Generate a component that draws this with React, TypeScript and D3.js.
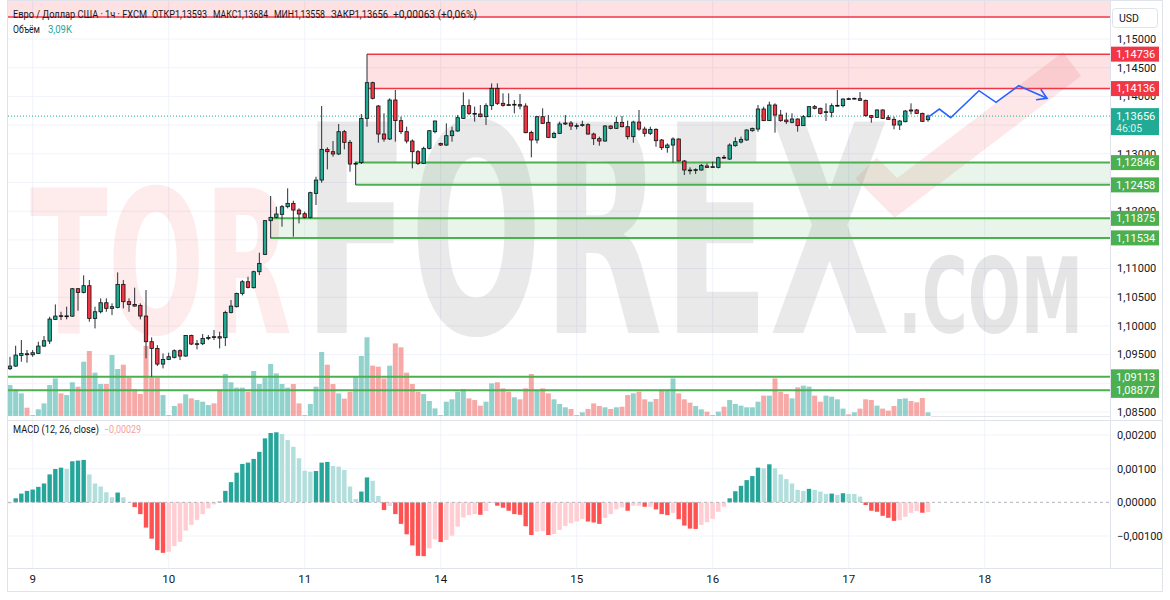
import * as d3 from "d3";

// hourly EUR/USD bars, [open, high, low, close]
const candles: [number, number, number, number][] = [
  [1.09254, 1.09463, 1.09231, 1.093], [1.093, 1.09655, 1.09289, 1.09492], [1.09486, 1.09754, 1.09376, 1.09521],
  [1.09515, 1.09579, 1.09359, 1.09498], [1.09498, 1.09579, 1.09463, 1.09533], [1.09521, 1.09725, 1.0951, 1.09649],
  [1.09649, 1.09823, 1.09637, 1.09742], [1.09736, 1.1016, 1.09684, 1.1012], [1.10114, 1.10375, 1.10102, 1.10172],
  [1.10178, 1.10247, 1.10102, 1.10172], [1.1017, 1.10335, 1.10114, 1.10175], [1.1017, 1.1066, 1.1016, 1.10648],
  [1.10648, 1.1066, 1.10265, 1.10584], [1.10584, 1.10881, 1.10567, 1.10701], [1.10701, 1.10799, 1.10073, 1.10131],
  [1.10131, 1.10335, 1.09957, 1.10247], [1.10247, 1.1048, 1.10218, 1.10404], [1.10404, 1.1048, 1.10247, 1.10306],
  [1.10306, 1.10393, 1.10189, 1.10335], [1.10323, 1.10933, 1.10306, 1.10724], [1.10724, 1.10799, 1.10306, 1.10422],
  [1.10422, 1.1048, 1.10247, 1.10375], [1.10375, 1.10666, 1.10335, 1.10346], [1.10358, 1.10393, 1.10114, 1.10172],
  [1.10172, 1.10625, 1.09434, 1.09725], [1.09725, 1.098, 1.09114, 1.09608], [1.09608, 1.09666, 1.093, 1.09335],
  [1.09335, 1.09521, 1.0926, 1.09417], [1.09417, 1.09533, 1.09405, 1.09463], [1.09452, 1.09591, 1.09434, 1.09568],
  [1.09568, 1.09591, 1.09405, 1.09475], [1.09475, 1.09841, 1.09463, 1.09835], [1.09835, 1.09847, 1.09666, 1.09684],
  [1.09684, 1.09754, 1.09591, 1.0969], [1.0969, 1.09858, 1.09666, 1.09783], [1.09783, 1.09841, 1.09754, 1.098],
  [1.09812, 1.09928, 1.09754, 1.098], [1.09812, 1.09899, 1.09608, 1.09789], [1.09795, 1.10265, 1.09649, 1.10236],
  [1.10236, 1.10451, 1.10218, 1.10346], [1.10335, 1.10579, 1.10323, 1.10567], [1.10567, 1.10799, 1.10532, 1.1077],
  [1.1077, 1.10857, 1.10654, 1.10672], [1.10666, 1.10962, 1.10654, 1.10945], [1.10945, 1.11276, 1.10887, 1.1109],
  [1.11247, 1.11845, 1.11235, 1.11834], [1.11834, 1.12264, 1.11526, 1.11892], [1.11892, 1.12078, 1.11874, 1.1195],
  [1.11944, 1.12107, 1.11729, 1.12078], [1.12078, 1.12397, 1.12049, 1.12136], [1.12136, 1.12182, 1.11555, 1.12019],
  [1.12019, 1.12049, 1.11787, 1.1195], [1.11955, 1.11991, 1.11874, 1.11892], [1.11892, 1.12339, 1.11874, 1.12322],
  [1.1231, 1.126, 1.12107, 1.12542], [1.12542, 1.13832, 1.12496, 1.13077], [1.13077, 1.13112, 1.12728, 1.13036],
  [1.13036, 1.13222, 1.12949, 1.12996], [1.12996, 1.13518, 1.12978, 1.13385], [1.13385, 1.13414, 1.13077, 1.13199],
  [1.13199, 1.1324, 1.12688, 1.12821], [1.12821, 1.12862, 1.12458, 1.12833], [1.12846, 1.13693, 1.12821, 1.13617],
  [1.13617, 1.14736, 1.13472, 1.14239], [1.14239, 1.14256, 1.13948, 1.13966], [1.13832, 1.1385, 1.13193, 1.13344],
  [1.13344, 1.13704, 1.13211, 1.13257], [1.13257, 1.13966, 1.1324, 1.13937], [1.13937, 1.14111, 1.13211, 1.13577],
  [1.13577, 1.13646, 1.13344, 1.13385], [1.13385, 1.13472, 1.13181, 1.13222], [1.13222, 1.13251, 1.12746, 1.13036],
  [1.13036, 1.13065, 1.12804, 1.12833], [1.12833, 1.13123, 1.12821, 1.13094], [1.13094, 1.13414, 1.13077, 1.13402],
  [1.13385, 1.13577, 1.13356, 1.13571], [1.13181, 1.13193, 1.13135, 1.13152], [1.13152, 1.1353, 1.13135, 1.13315],
  [1.13315, 1.13472, 1.13211, 1.13397], [1.13397, 1.13675, 1.13385, 1.13629], [1.13617, 1.1407, 1.13606, 1.13838],
  [1.13838, 1.13948, 1.13675, 1.13704], [1.13704, 1.13821, 1.13559, 1.13698], [1.13693, 1.1385, 1.13635, 1.13646],
  [1.13646, 1.13879, 1.13501, 1.13838], [1.13838, 1.14227, 1.13763, 1.1414], [1.1414, 1.14227, 1.1385, 1.13879],
  [1.13879, 1.14053, 1.13821, 1.13844], [1.13856, 1.14053, 1.1385, 1.1385], [1.13856, 1.13937, 1.13704, 1.13862],
  [1.13856, 1.14041, 1.13774, 1.13832], [1.13832, 1.13879, 1.13356, 1.13368], [1.13373, 1.13402, 1.12937, 1.1324],
  [1.1324, 1.13658, 1.13181, 1.13646], [1.13646, 1.13792, 1.13519, 1.1353], [1.13548, 1.13675, 1.13274, 1.13286],
  [1.13286, 1.13385, 1.13269, 1.13356], [1.13356, 1.13559, 1.13344, 1.13519], [1.13519, 1.13675, 1.13501, 1.13536],
  [1.13536, 1.13571, 1.13414, 1.13484], [1.13484, 1.1353, 1.13426, 1.1349], [1.13501, 1.13577, 1.13472, 1.13507],
  [1.13507, 1.1353, 1.13333, 1.13344], [1.13344, 1.13368, 1.13152, 1.13263], [1.13263, 1.13298, 1.13141, 1.13222],
  [1.13222, 1.13501, 1.13211, 1.13484], [1.13484, 1.13495, 1.13426, 1.13443], [1.13443, 1.13646, 1.13431, 1.13548],
  [1.13548, 1.13658, 1.1346, 1.13472], [1.13472, 1.13577, 1.13251, 1.13298], [1.13298, 1.13577, 1.13193, 1.13553],
  [1.13553, 1.13763, 1.13402, 1.13431], [1.13431, 1.13472, 1.13298, 1.13356], [1.13356, 1.13472, 1.13327, 1.13426],
  [1.13426, 1.13443, 1.13123, 1.13228], [1.1324, 1.13257, 1.13065, 1.13106], [1.13106, 1.13181, 1.13019, 1.13152],
  [1.13152, 1.13286, 1.12845, 1.13257], [1.13257, 1.13269, 1.12862, 1.12874], [1.12874, 1.12891, 1.1263, 1.12717],
  [1.12717, 1.12763, 1.12641, 1.12711], [1.12711, 1.12746, 1.12647, 1.12723], [1.12717, 1.12821, 1.12705, 1.12798],
  [1.12787, 1.12833, 1.12757, 1.12763], [1.12763, 1.12862, 1.12757, 1.12775], [1.12763, 1.12949, 1.12746, 1.12932],
  [1.12938, 1.12978, 1.12908, 1.12932], [1.12908, 1.13181, 1.12891, 1.13152], [1.13141, 1.13286, 1.13123, 1.13211],
  [1.13205, 1.13298, 1.13181, 1.13251], [1.1324, 1.13426, 1.13228, 1.13414], [1.13402, 1.13455, 1.13385, 1.13443],
  [1.13431, 1.1385, 1.13385, 1.1378], [1.1378, 1.13821, 1.13571, 1.13577], [1.13577, 1.13908, 1.13571, 1.1385],
  [1.1385, 1.13879, 1.13368, 1.13675], [1.13675, 1.13763, 1.13559, 1.13577], [1.13588, 1.13716, 1.13519, 1.13559],
  [1.13548, 1.13704, 1.1353, 1.13606], [1.13606, 1.13617, 1.13385, 1.1349], [1.1349, 1.13675, 1.13484, 1.13646],
  [1.13646, 1.13832, 1.13635, 1.13821], [1.13821, 1.1385, 1.13774, 1.13792], [1.13792, 1.13803, 1.13687, 1.13704],
  [1.13728, 1.13879, 1.13571, 1.13733], [1.13722, 1.13879, 1.13635, 1.13838], [1.13838, 1.14111, 1.13821, 1.13844],
  [1.13838, 1.13966, 1.13809, 1.13954], [1.1396, 1.13978, 1.13937, 1.13954], [1.1396, 1.13978, 1.13948, 1.13966],
  [1.1396, 1.14076, 1.13925, 1.13931], [1.13931, 1.13943, 1.13646, 1.13664], [1.13664, 1.13675, 1.13542, 1.13635],
  [1.13635, 1.13774, 1.13629, 1.13763], [1.13763, 1.13774, 1.13606, 1.13617], [1.13629, 1.13675, 1.13588, 1.136],
  [1.136, 1.13646, 1.13426, 1.13501], [1.13501, 1.13588, 1.13414, 1.13571], [1.13559, 1.13763, 1.13548, 1.13745],
  [1.13763, 1.13879, 1.13687, 1.13745], [1.13763, 1.1378, 1.13693, 1.13704], [1.13704, 1.13716, 1.13559, 1.13565],
  [1.13593, 1.13684, 1.13558, 1.13656],
];

// volume, thousands
const volumes = [
  26.0, 22.4, 19.0, 7.0, 0.8, 5.6, 10.6, 26.0, 31.6, 19.0, 17.6, 28.3, 24.6, 45.6, 54.6, 36.4, 26.9, 26.9, 51.2, 39.5,
  43.1, 32.2, 22.4, 18.5, 58.8, 32.2, 32.2, 17.6, 0.8, 8.4, 10.6, 18.2, 14.8, 13.4, 12.0, 9.2, 10.6, 22.4, 35.3, 28.3,
  23.8, 23.8, 20.4, 37.8, 26.9, 32.2, 43.7, 35.8, 26.9, 23.8, 26.9, 10.6, 0.8, 10.1, 24.6, 53.8, 43.1, 26.9, 19.0, 14.6,
  20.4, 33.6, 50.4, 66.1, 42.3, 41.4, 31.6, 42.3, 61.0, 57.7, 36.4, 26.9, 20.4, 18.5, 12.6, 6.4, 0.8, 12.0, 14.0, 20.4,
  22.7, 14.8, 13.4, 8.7, 12.0, 27.4, 28.3, 23.2, 20.4, 15.7, 14.0, 23.2, 35.3, 21.8, 23.2, 19.0, 14.0, 10.1, 7.3, 5.9,
  0.8, 3.1, 5.9, 10.6, 8.4, 7.3, 5.9, 7.3, 7.8, 17.6, 19.0, 20.4, 14.0, 12.0, 14.3, 22.4, 22.4, 31.6, 19.0, 14.0,
  11.2, 8.4, 5.6, 3.6, 0.8, 3.6, 7.8, 13.4, 10.1, 8.7, 7.3, 7.3, 12.0, 17.1, 17.1, 31.6, 20.4, 18.5, 14.8, 24.1,
  25.5, 24.6, 17.1, 12.0, 17.1, 16.2, 14.0, 6.2, 1.4, 3.1, 6.2, 14.0, 13.4, 8.7, 6.2, 4.5, 8.4, 14.3, 14.8, 12.6,
  11.5, 15.1, 3.09,
];

// MACD (12, 26, close) histogram
const macdHist = [
  -0.00003, 0.00012, 0.00026, 0.00034, 0.00038, 0.00046, 0.00056, 0.00083, 0.00099, 0.00103, 0.00099, 0.00122, 0.00124,
  0.00126, 0.00083, 0.00056, 0.00047, 0.0003, 0.00015, 0.00029, 0.00015, 0.00001, -0.00014, -0.00035, -0.00075,
  -0.00108, -0.00142, -0.0015, -0.00147, -0.0013, -0.00117, -0.00084, -0.00067, -0.00052, -0.00035, -0.00018,
  -0.00006, 0.00002, 0.00034, 0.0006, 0.00088, 0.00114, 0.00118, 0.00129, 0.0015, 0.0019, 0.00206, 0.00208, 0.00203,
  0.00185, 0.00165, 0.00131, 0.00094, 0.00091, 0.00093, 0.00118, 0.0012, 0.00108, 0.00106, 0.00096, 0.00047, 0.0001,
  0.00032, 0.00074, 0.00064, 0.00019, -0.00023, -0.00011, -0.00035, -0.00064, -0.00095, -0.00128, -0.00159, -0.0016,
  -0.00137, -0.0011, -0.00118, -0.00112, -0.00099, -0.00072, -0.00045, -0.00038, -0.00035, -0.00037, -0.00026,
  -0.00002, -0.0001, -0.00016, -0.00025, -0.00035, -0.00037, -0.00071, -0.00097, -0.00087, -0.00085, -0.00097,
  -0.00094, -0.00082, -0.0007, -0.00062, -0.00057, -0.0005, -0.00057, -0.0006, -0.00064, -0.00046, -0.00035, -0.00021,
  -0.00015, -0.00025, -0.0001, -0.0001, -0.00013, -0.00013, -0.00021, -0.00035, -0.00038, -0.00031, -0.0005, -0.00069,
  -0.00078, -0.00079, -0.00067, -0.00059, -0.00049, -0.00028, -0.00013, 0.00012, 0.00033, 0.00049, 0.00066, 0.00078,
  0.00103, 0.00101, 0.00113, 0.00101, 0.00083, 0.00069, 0.00056, 0.00037, 0.00034, 0.0004, 0.00037, 0.00032, 0.00025,
  0.00026, 0.00022, 0.00027, 0.00025, 0.00025, 0.00017, -0.00008, -0.00025, -0.00028, -0.0004, -0.00046, -0.00055,
  -0.00053, -0.00043, -0.00031, -0.00026, -0.00031, -0.00029,
];

// day labels, bar index of 00:00
const dayTicks = [
  { label: "9", bar: 4 }, { label: "10", bar: 28 }, { label: "11", bar: 52 }, { label: "14", bar: 76 },
  { label: "15", bar: 100 }, { label: "16", bar: 124 }, { label: "17", bar: 148 }, { label: "18", bar: 172 },
];
const priceTicks = d3.range(1.085, 1.1501, 0.005);
const macdTicks = [-0.001, 0.001, 0.002];

// resistance / support zones drawn on the chart
const redZones = [
  { top: 1.16, bottom: 1.15383, from: -2, label: false },
  { top: 1.14736, bottom: 1.14136, from: 63, label: true },
];
const greenZones = [
  { top: 1.12846, bottom: 1.12458, from: 61 },
  { top: 1.11875, bottom: 1.11534, from: 46 },
];
const greenLevels = [1.09113, 1.08877];

// drawn forecast path (bar index, price)
const forecast: [number, number][] = [
  [162, 1.13635], [164, 1.1378], [166, 1.13628], [171, 1.14099], [174, 1.13897], [178, 1.14186], [183, 1.13967],
];

const lastPrice = 1.13656;
const header = [
  { text: "Евро / Доллар США · 1ч · FXCM", x: 13, w: 134 },
  { text: "ОТКР1,13593", x: 152, w: 55 },
  { text: "МАКС1,13684", x: 213, w: 55 },
  { text: "МИН1,13558", x: 274, w: 51 },
  { text: "ЗАКР1,13656", x: 331, w: 57 },
  { text: "+0,00063 (+0,06%)", x: 393, w: 84 },
];

const FONT = "Roboto, 'Liberation Sans', Arial, sans-serif";
const UP = "#22ab94";
const DOWN = "#f23645";
const AXIS_X = 1110;

const fmt = (v: number) => d3.format(".5f")(v).replace(".", ",").replace("-", "−");

export default function App() {
  const x = d3.scaleLinear().domain([0, candles.length - 1]).range([10, 928]);
  const y = d3.scaleLinear().domain([1.085, 1.15]).range([412, 39]);
  const yVol = d3.scaleLinear().domain([0, 84]).range([416, 316]);
  const yMacd = d3.scaleLinear().domain([-0.001, 0.002]).range([536, 435]);

  const fLine = d3
    .line<[number, number]>()
    .x((d) => x(d[0]))
    .y((d) => y(d[1]));

  // arrow head at the end of the forecast
  const n = forecast.length;
  const tip = [x(forecast[n - 1][0]), y(forecast[n - 1][1])];
  const prev = [x(forecast[n - 2][0]), y(forecast[n - 2][1])];
  const ang = Math.atan2(tip[1] - prev[1], tip[0] - prev[0]);
  const wing = (a: number) => [tip[0] - 11 * Math.cos(ang + a), tip[1] - 11 * Math.sin(ang + a)];
  const w1 = wing(0.55);
  const w2 = wing(-0.55);

  const macdColor = (v: number, i: number) => {
    const p = i > 0 ? macdHist[i - 1] : -0.0001;
    if (v >= 0) return v > p ? "#26a69a" : "#b2dfdb";
    return v < p ? "#ff5252" : "#ffcdd2";
  };

  // axis ticks hidden under the coloured price labels are left out
  const labelled = [
    ...redZones.filter((z) => z.label).flatMap((z) => [z.top, z.bottom]),
    ...greenZones.flatMap((z) => [z.top, z.bottom]),
    ...greenLevels,
    lastPrice,
  ];
  const visibleTicks = priceTicks.filter((p) =>
    labelled.every((q) => Math.abs(y(p) - y(q) - (q === lastPrice ? 5 : 0)) > (q === lastPrice ? 12 : 6))
  );

  const priceLabel = (p: number, color: string) => (
    <g key={`pl${p}`}>
      <rect x={AXIS_X + 1} y={y(p) - 7.5} width={48} height={15} fill={color} />
      <text x={AXIS_X + 6} y={y(p)} dy="0.35em" fontSize={11} fill="#fff" fontFamily={FONT}>
        {fmt(p)}
      </text>
    </g>
  );

  return (
    <div style={{ position: "absolute", left: 0, top: 0 }}>
      <svg width={1170} height={600} style={{ display: "block", background: "#fff" }}>
        <defs>
          <clipPath id="pricePane">
            <rect x={8} y={0} width={AXIS_X - 8} height={420} />
          </clipPath>
          <clipPath id="macdPane">
            <rect x={8} y={421} width={AXIS_X - 8} height={147} />
          </clipPath>
        </defs>

        {/* grid */}
        <g stroke="#f0f3fa" strokeWidth={1}>
          {priceTicks.map((p) => (
            <line key={`gp${p}`} x1={8} x2={AXIS_X} y1={y(p)} y2={y(p)} />
          ))}
          {macdTicks.map((p) => (
            <line key={`gm${p}`} x1={8} x2={AXIS_X} y1={yMacd(p)} y2={yMacd(p)} />
          ))}
          {dayTicks.map((d) => (
            <line key={`gv${d.label}`} x1={x(d.bar)} x2={x(d.bar)} y1={0} y2={568} />
          ))}
        </g>

        {/* watermark */}
        <g fontFamily="'Liberation Sans Narrow', 'DejaVu Sans Condensed', 'Liberation Sans', sans-serif" fontWeight={700}>
          <text x={30} y={333} fontSize={200} textLength={262} lengthAdjust="spacingAndGlyphs" fill={DOWN} fillOpacity={0.1}>
            TOR
          </text>
          <text x={303} y={333} fontSize={290} textLength={587} lengthAdjust="spacingAndGlyphs" fill="#000" fillOpacity={0.085}>
            FOREX
          </text>
          <text x={898} y={333} fontSize={105} textLength={185} lengthAdjust="spacingAndGlyphs" fill="#000" fillOpacity={0.1}>
            .COM
          </text>
          <polyline
            points="866,168 896,198 1072,64"
            fill="none"
            stroke={DOWN}
            strokeOpacity={0.12}
            strokeWidth={30}
          />
        </g>

        <g clipPath="url(#pricePane)">
          {/* zone fills */}
          {redZones.map((z) => (
            <rect
              key={`rz${z.top}`}
              x={x(z.from)}
              y={y(z.top)}
              width={AXIS_X - x(z.from)}
              height={y(z.bottom) - y(z.top)}
              fill={DOWN}
              fillOpacity={0.15}
            />
          ))}
          {greenZones.map((z) => (
            <rect
              key={`gz${z.top}`}
              x={x(z.from)}
              y={y(z.top)}
              width={AXIS_X - x(z.from)}
              height={y(z.bottom) - y(z.top)}
              fill="#4caf50"
              fillOpacity={0.12}
            />
          ))}

          {/* volume */}
          {volumes.map((v, i) => {
            const c = candles[i];
            return (
              <rect
                key={`v${i}`}
                x={x(i) - 2.5}
                y={yVol(v)}
                width={5}
                height={yVol(0) - yVol(v)}
                fill={c[3] >= c[0] ? "#26a69a" : "#ef5350"}
                fillOpacity={0.5}
              />
            );
          })}
          <line x1={x(candles.length - 1) + 3} x2={AXIS_X} y1={416.5} y2={416.5} stroke="#d1d4dc" strokeOpacity={0.6} />

          {/* zone lines */}
          {redZones.map((z) => (
            <g key={`rl${z.top}`} stroke={DOWN} strokeWidth={1.5}>
              {z.label && <line x1={x(z.from)} x2={AXIS_X} y1={y(z.top)} y2={y(z.top)} />}
              <line x1={x(z.from)} x2={AXIS_X} y1={y(z.bottom)} y2={y(z.bottom)} />
            </g>
          ))}
          {greenZones.map((z) => (
            <g key={`gl${z.top}`} stroke="#4caf50" strokeWidth={2}>
              <line x1={x(z.from)} x2={AXIS_X} y1={y(z.top)} y2={y(z.top)} />
              <line x1={x(z.from)} x2={AXIS_X} y1={y(z.bottom)} y2={y(z.bottom)} />
            </g>
          ))}
          {greenLevels.map((p) => (
            <line key={`lv${p}`} x1={8} x2={AXIS_X} y1={y(p)} y2={y(p)} stroke="#4caf50" strokeWidth={2} />
          ))}

          {/* last price */}
          <line x1={8} x2={AXIS_X} y1={y(lastPrice)} y2={y(lastPrice)} stroke={UP} strokeDasharray="1 2" />

          {/* candles */}
          {candles.map(([o, h, l, c], i) => {
            const top = y(Math.max(o, c));
            const bot = y(Math.min(o, c));
            return (
              <g key={`c${i}`}>
                <line x1={x(i)} x2={x(i)} y1={y(h)} y2={y(l)} stroke="#2a2e39" strokeWidth={1} />
                <rect
                  x={x(i) - 1.7}
                  y={top}
                  width={3.4}
                  height={Math.max(0.8, bot - top)}
                  fill={c >= o ? UP : DOWN}
                  stroke="#111"
                  strokeWidth={0.8}
                />
              </g>
            );
          })}

          {/* forecast */}
          <path d={fLine(forecast) ?? ""} fill="none" stroke="#2962ff" strokeWidth={1.6} />
          <polyline
            points={`${w1[0]},${w1[1]} ${tip[0]},${tip[1]} ${w2[0]},${w2[1]}`}
            fill="none"
            stroke="#2962ff"
            strokeWidth={1.6}
          />
        </g>

        {/* MACD */}
        <g clipPath="url(#macdPane)">
          {macdHist.map((v, i) => (
            <rect
              key={`m${i}`}
              x={x(i) - 2.2}
              y={yMacd(Math.max(0, v))}
              width={4.4}
              height={Math.abs(yMacd(v) - yMacd(0))}
              fill={macdColor(v, i)}
            />
          ))}
          <line x1={8} x2={AXIS_X} y1={yMacd(0)} y2={yMacd(0)} stroke="#b2b5be" strokeDasharray="3 3" />
        </g>

        {/* frame and separators */}
        <g stroke="#e0e3eb" fill="none">
          <rect x={7.5} y={0.5} width={1155} height={591} />
          <line x1={8} x2={1163} y1={420.5} y2={420.5} />
          <line x1={8} x2={1163} y1={568.5} y2={568.5} />
          <line x1={AXIS_X + 0.5} x2={AXIS_X + 0.5} y1={0} y2={568} />
        </g>

        {/* legend */}
        <g fontFamily={FONT} fontSize={10} fill="#131722">
          {header.map((h) => (
            <text key={h.text} x={h.x} y={18} textLength={h.w} lengthAdjust="spacingAndGlyphs">
              {h.text}
            </text>
          ))}
          <text x={13} y={33} textLength={27} lengthAdjust="spacingAndGlyphs">Объём</text>
          <text x={48} y={33} fill="#26a69a" textLength={24} lengthAdjust="spacingAndGlyphs">3,09K</text>
          <text x={13} y={433} textLength={86} lengthAdjust="spacingAndGlyphs">MACD (12, 26, close)</text>
          <text x={104} y={433} fill="#f7a1a1" textLength={37} lengthAdjust="spacingAndGlyphs">
            {fmt(macdHist[macdHist.length - 1])}
          </text>
        </g>

        {/* price axis */}
        <g fontFamily={FONT} fontSize={11} fill="#131722">
          {visibleTicks.map((p) => (
            <text key={`t${p}`} x={AXIS_X + 7} y={y(p)} dy="0.35em">
              {fmt(p)}
            </text>
          ))}
          {[0.002, 0.001, 0, -0.001].map((p) => (
            <text key={`tm${p}`} x={AXIS_X + 7} y={yMacd(p)} dy="0.35em">
              {fmt(p)}
            </text>
          ))}
          {dayTicks.map((d) => (
            <text key={`td${d.label}`} x={x(d.bar)} y={579} dy="0.35em" textAnchor="middle" fontSize={11.5}>
              {d.label}
            </text>
          ))}
        </g>
        <rect x={1112.5} y={8.5} width={45} height={19} rx={3} fill="#fff" stroke="#e0e3eb" />
        <text x={1119} y={18} dy="0.35em" fontFamily={FONT} fontSize={10.5} fill="#131722">
          USD
        </text>

        {redZones.filter((z) => z.label).flatMap((z) => [priceLabel(z.top, DOWN), priceLabel(z.bottom, DOWN)])}
        {greenZones.flatMap((z) => [priceLabel(z.top, "#4caf50"), priceLabel(z.bottom, "#4caf50")])}
        {greenLevels.map((p) => priceLabel(p, "#4caf50"))}
        <g>
          <rect x={AXIS_X + 1} y={y(lastPrice) - 8} width={48} height={27} fill={UP} />
          <text x={AXIS_X + 6} y={y(lastPrice)} dy="0.35em" fontSize={11} fill="#fff" fontFamily={FONT}>
            {fmt(lastPrice)}
          </text>
          <text x={AXIS_X + 6} y={y(lastPrice) + 12} dy="0.35em" fontSize={10.5} fill="#fff" fillOpacity={0.85} fontFamily={FONT}>
            46:05
          </text>
        </g>
      </svg>
    </div>
  );
}
